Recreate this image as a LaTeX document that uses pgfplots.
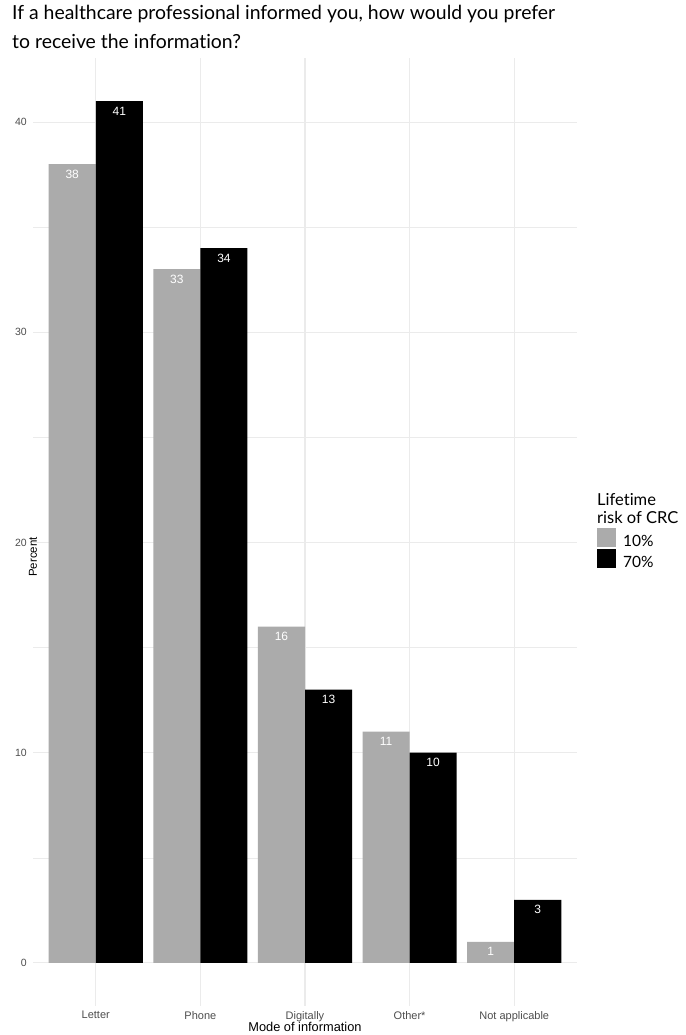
\documentclass[border=0pt]{standalone}
\usepackage{fontspec}
\setmainfont{Lato}[Ligatures=NoCommon]
\newfontfamily\helv{Liberation Sans}
\usepackage{pgfplots}
\pgfplotsset{compat=1.18}
\definecolor{barg}{RGB}{171,171,171}
\definecolor{gridc}{RGB}{235,235,235}
\definecolor{tickc}{RGB}{77,77,77}

\begin{document}
\begin{tikzpicture}
\useasboundingbox (0,0) rectangle (685pt,1035pt);
% title
\node[anchor=base west, inner sep=0pt, font=\fontsize{19.4}{22}\selectfont] at (12pt,1015pt)
	{If a healthcare professional informed you, how would you prefer};
\node[anchor=base west, inner sep=0pt, font=\fontsize{19.4}{22}\selectfont] at (12pt,986pt)
	{to receive the information?};
% legend title
\node[anchor=base west, inner sep=0pt, font=\fontsize{16.5}{18}\selectfont] at (597pt,529pt) {Lifetime};
\node[anchor=base west, inner sep=0pt, font=\fontsize{16.5}{18}\selectfont] at (597pt,511pt) {risk of CRC};
\begin{axis}[at={(33pt,29pt)}, anchor=south west,
	scale only axis, width=544pt, height=948pt,
	ybar=0pt, bar width=0.45,
	xmin=0.4, xmax=5.6, ymin=-2.05, ymax=43.05,
	xtick={1,2,3,4,5},
	xticklabels={Letter, Phone, Digitally, Other*, Not applicable},
	ytick={0,10,20,30,40}, minor ytick={5,15,25,35},
	xmajorgrids, ymajorgrids, yminorgrids,
	major grid style={gridc, line width=1.1pt},
	minor grid style={gridc, line width=0.6pt},
	axis line style={draw=none}, major tick length=0pt, minor tick length=0pt,
	/pgf/number format/assume math mode=true,
	yticklabel style={font=\helv\fontsize{10.5}{12}\selectfont, text=tickc, inner sep=0pt, xshift=-6pt},
	xticklabel style={font=\helv\fontsize{11}{13}\selectfont, text=tickc, inner sep=0pt, yshift=-5pt},
	xlabel={Mode of information}, ylabel={Percent},
	xlabel style={font=\helv\fontsize{12.8}{14}\selectfont, at={(axis description cs:0.5,0)}, anchor=north, inner sep=0pt, yshift=-16pt},
	ylabel style={font=\helv\fontsize{11.5}{13}\selectfont, at={(axis description cs:0,0.5)}, anchor=center, inner sep=0pt, xshift=-25pt},
	nodes near coords,
	nodes near coords style={font=\helv\fontsize{12}{14}\selectfont, text=white, anchor=north, inner sep=0pt, yshift=-5.5pt},
	legend style={at={(axis description cs:1.0368,0.504)}, anchor=north west, draw=none, fill=none,
		inner sep=0pt, row sep=1pt, nodes={inner sep=0pt}, font=\fontsize{15.5}{17}\selectfont,
		/tikz/every odd column/.append style={column sep=7pt}},
	legend cell align=left]
	\addplot[fill=barg, draw=none,
		legend image code/.code={\fill[barg] (0pt,-5pt) rectangle (19pt,13.5pt);}]
		coordinates {(1,38) (2,33) (3,16) (4,11) (5,1)};
	\addplot[fill=black, draw=none,
		legend image code/.code={\fill[black] (0pt,-5pt) rectangle (19pt,13.5pt);}]
		coordinates {(1,41) (2,34) (3,13) (4,10) (5,3)};
	\legend{10\%, 70\%}
\end{axis}
\end{tikzpicture}
\end{document}
